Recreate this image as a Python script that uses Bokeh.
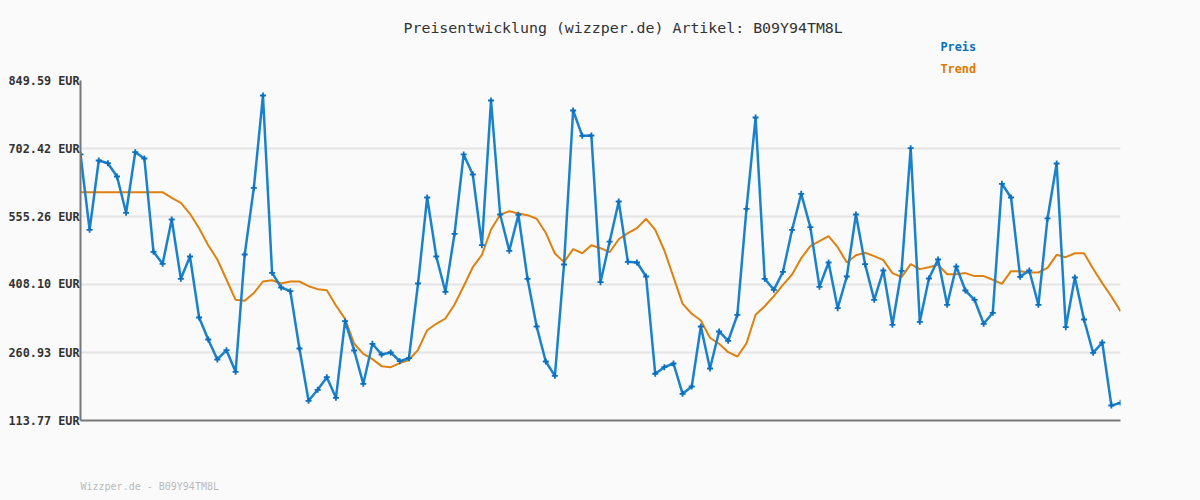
from bokeh.plotting import figure
from bokeh.models import Range1d, FixedTicker, Title, ColumnDataSource
from bokeh.embed import file_html
from bokeh.resources import INLINE

title_text = "Preisentwicklung (wizzper.de) Artikel: B09Y94TM8L"
footer_text = "Wizzper.de - B09Y94TM8L"
series_names = ["Preis", "Trend"]

y_ticks = [113.77, 260.93, 408.10, 555.26, 702.42, 849.59]
y_tick_labels = ["113.77 EUR", "260.93 EUR", "408.10 EUR", "555.26 EUR", "702.42 EUR", "849.59 EUR"]

preis = [
    689.5, 526.5, 676.5, 670.6, 641.8, 563.3, 694.4, 680.8, 478.9, 452.9,
    548.8, 420.4, 468.7, 336.7, 289.1, 245.8, 265.9, 219.2, 473.0, 617.3,
    817.1, 433.4, 401.6, 393.6, 269.6, 156.4, 180.2, 207.5, 162.9, 328.7,
    265.3, 193.2, 279.8, 256.6, 260.9, 242.1, 248.6, 410.3, 596.4, 468.7,
    392.3, 517.8, 689.5, 646.2, 493.2, 806.3, 559.6, 481.0, 559.0, 420.4,
    317.2, 241.5, 210.5, 451.4, 784.7, 729.9, 730.6, 413.1, 500.7, 587.7,
    457.2, 455.7, 425.4, 214.9, 229.2, 237.1, 171.6, 187.4, 317.2, 226.3,
    306.4, 286.3, 342.5, 571.9, 769.5, 420.4, 396.6, 435.5, 526.5, 604.4,
    532.2, 403.1, 455.7, 356.9, 425.4, 559.6, 452.1, 375.0, 438.4, 320.9,
    437.7, 703.1, 327.4, 421.1, 462.2, 364.2, 447.1, 395.1, 375.0, 323.1,
    346.8, 626.0, 596.4, 424.7, 438.4, 364.2, 551.0, 670.0, 315.7, 423.3,
    332.4, 260.2, 282.6, 146.2, 152.0,
]

trend = [
    607.9, 607.9, 607.9, 607.9, 607.9, 607.9, 607.9, 607.9, 607.9, 607.9,
    595.7, 584.9, 561.1, 530.0, 493.2, 462.2, 418.9, 375.0, 372.8, 389.5,
    414.6, 417.4, 410.3, 414.6, 414.6, 404.4, 398.0, 395.8, 362.6, 333.8,
    279.8, 258.1, 246.6, 231.4, 229.2, 237.9, 244.4, 266.8, 309.2, 323.1,
    334.5, 364.8, 404.4, 445.5, 472.3, 527.1, 559.0, 566.8, 561.8, 558.1,
    550.3, 520.0, 475.2, 456.5, 484.5, 475.8, 493.2, 486.7, 478.0, 506.1,
    519.2, 530.0, 550.3, 526.5, 481.7, 424.0, 366.3, 344.7, 330.2, 292.8,
    279.8, 261.6, 252.3, 280.6, 342.5, 361.1, 382.9, 407.4, 429.7, 465.0,
    491.0, 501.8, 512.6, 488.8, 455.7, 471.6, 476.7, 469.4, 460.7, 432.8,
    424.0, 452.1, 441.4, 445.5, 450.7, 430.4, 430.4, 432.8, 426.3, 426.3,
    418.3, 409.6, 437.0, 437.0, 434.1, 434.1, 444.2, 472.3, 467.2, 475.8,
    475.8, 442.1, 411.0, 382.1, 350.3,
]

idx = list(range(len(preis)))
src = ColumnDataSource(dict(x=idx, preis=preis, trend=trend))

BG = "#fafafa"
BLUE = "#1a82cd"
BLUE_DARK = "#0b6fbf"
ORANGE = "#e0810f"
FONT = "DejaVu Sans Mono"

p = figure(frame_width=1040, frame_height=340,
           x_range=Range1d(0, len(preis) - 1),
           y_range=Range1d(y_ticks[0], y_ticks[-1]),
           output_backend="svg", toolbar_location=None,
           min_border_left=80, min_border_right=80,
           min_border_top=80, min_border_bottom=80,
           background_fill_color=BG, border_fill_color=BG)
p.outline_line_color = None

# grid
p.xgrid.grid_line_color = None
p.ygrid.ticker = FixedTicker(ticks=y_ticks)
p.ygrid.grid_line_color = "#e4e4e4"
p.ygrid.grid_line_width = 2

# y axis
p.yaxis.ticker = FixedTicker(ticks=y_ticks)
p.yaxis.major_label_overrides = {v: l for v, l in zip(y_ticks, y_tick_labels)}
p.yaxis.major_tick_out = 0
p.yaxis.major_tick_in = 0
p.yaxis.minor_tick_line_color = None
p.yaxis.major_tick_line_color = None
p.yaxis.axis_line_color = "#777777"
p.yaxis.axis_line_width = 2
p.yaxis.major_label_standoff = 1
p.yaxis.major_label_text_font = FONT
p.yaxis.major_label_text_font_size = "11.8px"
p.yaxis.major_label_text_font_style = "bold"
p.yaxis.major_label_text_color = "#333333"

# x axis
p.xaxis.ticker = FixedTicker(ticks=[])
p.xaxis.major_tick_line_color = None
p.xaxis.minor_tick_line_color = None
p.xaxis.major_tick_out = 0
p.xaxis.major_label_standoff = 0
p.xaxis.axis_line_color = "#777777"
p.xaxis.axis_line_width = 2

# series
p.line("x", "trend", source=src, line_color=ORANGE, line_width=2)
p.line("x", "preis", source=src, line_color=BLUE, line_width=2.5)
p.scatter("x", "preis", source=src, marker="cross", size=6,
          line_color=BLUE_DARK, line_width=1.8)

# texts stacked above the frame (nearest first)
p.add_layout(Title(text=series_names[1], text_font=FONT, text_font_size="11.8px",
                   text_font_style="bold", text_color="#e07800",
                   align="left", offset=860, standoff=9), "above")
p.add_layout(Title(text=series_names[0], text_font=FONT, text_font_size="11.8px",
                   text_font_style="bold", text_color=BLUE_DARK,
                   align="left", offset=860, standoff=3), "above")
p.add_layout(Title(text=title_text, text_font=FONT, text_font_size="14.9px",
                   text_font_style="normal", text_color="#333333",
                   align="left", offset=323, standoff=0), "above")

# footer below the frame: an empty spacer, then the footer text
p.add_layout(Title(text=" ", text_font=FONT, text_font_size="10px",
                   text_color=BG, align="left", offset=0, standoff=45), "below")
p.add_layout(Title(text=footer_text, text_font=FONT, text_font_size="10px",
                   text_font_style="normal", text_color="#bbbbbb",
                   align="left", offset=0, standoff=0), "below")

html = file_html(p, INLINE)
html = html.replace("<head>", "<head><style>html,body{background:#fafafa;}</style>", 1)
open("out.html", "w").write(html)
